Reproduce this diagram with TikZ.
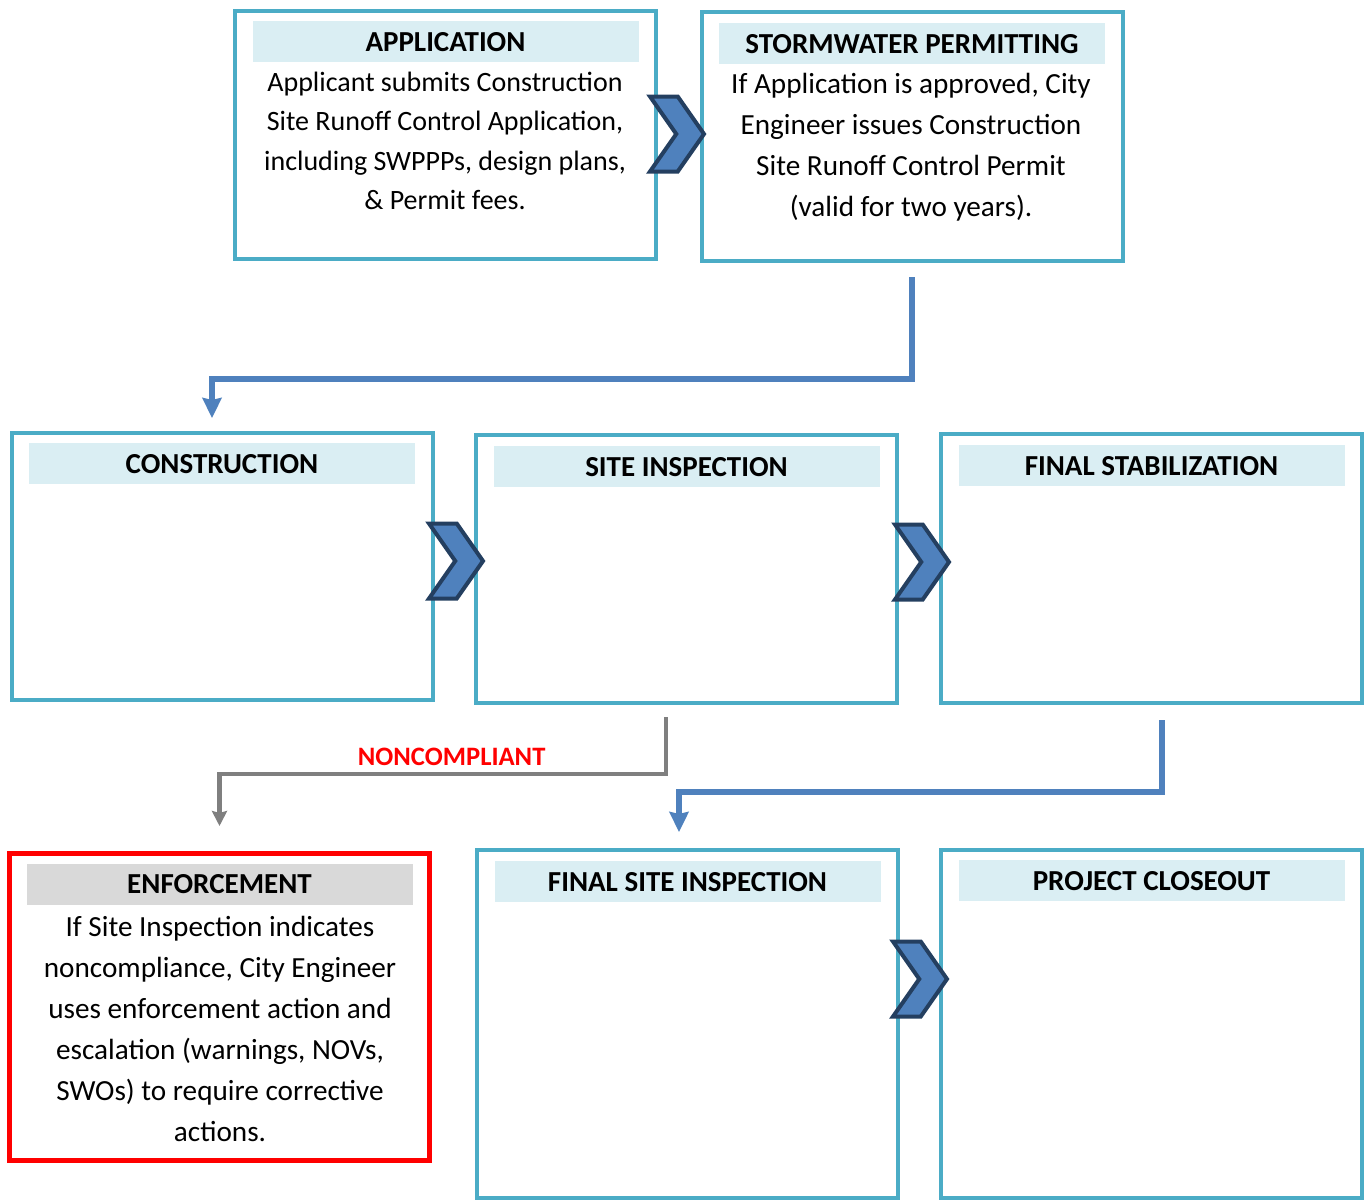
\documentclass[tikz,border=0pt]{standalone}
\usepackage{fontspec}
\setmainfont{Carlito}
\usepackage{xcolor}
\usetikzlibrary{positioning,shapes,shapes.symbols,arrows.meta}
\definecolor{boxline}{HTML}{4BACC6}
\definecolor{bandfill}{HTML}{DAEEF3}
\definecolor{flowblue}{HTML}{4F81BD}
\definecolor{chevline}{HTML}{243F60}
\definecolor{flowgray}{HTML}{7F7F7F}
\definecolor{bandgray}{HTML}{D9D9D9}
\begin{document}
\begin{tikzpicture}[x=0.5pt,y=0.5pt,
  stepbox/.style={draw=boxline,line width=2pt,minimum width=210.5pt},
  enfbox/.style={draw=red,line width=2.5pt,minimum width=210pt},
  band/.style={fill=bandfill,minimum width=193pt,minimum height=20.5pt,font=\fontsize{14.5}{17}\bfseries\selectfont},
  enfband/.style={band,fill=bandgray},
  bodytext/.style={align=center,font=\fontsize{14}{19.75}\selectfont},
  widetext/.style={align=center,font=\fontsize{14.6}{20.5}\selectfont},
  chev/.style={shape=signal,signal to=east,signal from=west,signal pointer angle=110,fill=flowblue,draw=chevline,line width=2pt,minimum width=27pt,minimum height=37.5pt},
  flow/.style={draw=flowblue,line width=2.75pt,-{Stealth[length=10pt,width=9.5pt,inset=1pt]}},
  noflow/.style={draw=flowgray,line width=2.2pt,-{Stealth[length=7.5pt,width=7.5pt,inset=1pt]}},
  noncomp/.style={text=red,font=\fontsize{13.3}{16}\bfseries\selectfont}]
\tikzstyle{every node}+=[inner sep=0pt]
\useasboundingbox (0,0) rectangle (1369,-1201);
\node[stepbox,minimum height=124pt] (app) at (445.5,-135) {};
\node[stepbox,minimum height=124.5pt] (storm) at (912,-136.5) {};
\node[stepbox,minimum height=133.5pt] (cons) at (222,-566.5) {};
\node[stepbox,minimum height=134pt] (insp) at (686.5,-569) {};
\node[stepbox,minimum height=134.5pt] (stab) at (1151.5,-568.5) {};
\node[enfbox,minimum height=153.5pt] (enf) at (219.5,-1007) {};
\node[stepbox,minimum height=174pt] (finsp) at (687.5,-1024) {};
\node[stepbox,minimum height=174pt] (close) at (1151.5,-1024) {};
\node[band,below=6pt of app.north] (appband) {APPLICATION};
\node[band,below=6.5pt of storm.north] (stormband) {STORMWATER PERMITTING};
\node[band,below=6pt of cons.north] (consband) {CONSTRUCTION};
\node[band,below=6.5pt of insp.north] (inspband) {SITE INSPECTION};
\node[band,below=6.5pt of stab.north] (stabband) {FINAL STABILIZATION};
\node[enfband,below=6.25pt of enf.north] (enfband) {ENFORCEMENT};
\node[band,below=6.5pt of finsp.north] (finspband) {FINAL SITE INSPECTION};
\node[band,below=6pt of close.north] (closeband) {PROJECT CLOSEOUT};
\node[bodytext] (apptext) at (445,-141) {Applicant submits Construction\\Site Runoff Control Application,\\including SWPPPs, design plans,\\\& Permit fees.};
\node[widetext] (stormtext) at (911,-147.5) {If Application is approved, City\\Engineer issues Construction\\Site Runoff Control Permit\\(valid for two years).};
\node[widetext] (enftext) at (220,-1029) {If Site Inspection indicates\\noncompliance, City Engineer\\uses enforcement action and\\escalation (warnings, NOVs,\\SWOs) to require corrective\\actions.};
\node[chev] (chev1) at (677,-134) {};
\node[chev] (chev2) at (456,-561) {};
\node[chev] (chev3) at (922,-562) {};
\node[chev] (chev4) at (920,-979) {};
\draw[flow] ([yshift=-7pt]storm.south) -- ++(0,-102) -| ([xshift=-5pt,yshift=6.5pt]cons.north);
\draw[noflow] ([xshift=-10.25pt,yshift=-6pt]insp.south) -- ++(0,-57) -| node[pos=0.24,above=3pt,noncomp] {NONCOMPLIANT} ([yshift=12.5pt]enf.north);
\draw[flow] ([xshift=5.25pt,yshift=-7.5pt]stab.south) -- ++(0,-72) -| ([xshift=-4.25pt,yshift=8pt]finsp.north);
\end{tikzpicture}
\end{document}
